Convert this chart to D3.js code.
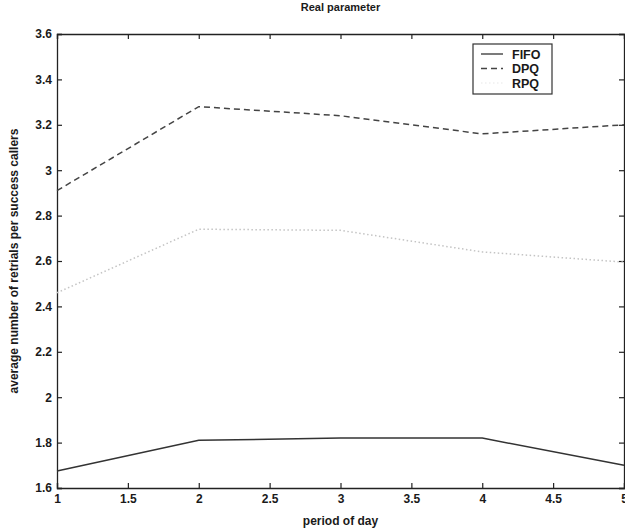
<!DOCTYPE html>
<html>
<head>
<meta charset="utf-8">
<script src="https://cdn.jsdelivr.net/npm/d3@7"></script>
<style>
  body { margin: 0; background: #fff; }
  text { font-family: "Liberation Sans", Arial, sans-serif; fill: #1a1a1a; }
</style>
</head>
<body>
<div id="chart"></div>
<script>
// data
const periods = [1, 2, 3, 4, 5]
const fifo = [1.675, 1.81, 1.82, 1.82, 1.70]
const dpq = [2.91, 3.28, 3.24, 3.16, 3.20]
const rpq = [2.46, 2.74, 2.735, 2.64, 2.595]
const xTicks = [1, 1.5, 2, 2.5, 3, 3.5, 4, 4.5, 5]
const yTicks = [1.6, 1.8, 2, 2.2, 2.4, 2.6, 2.8, 3, 3.2, 3.4, 3.6]
const seriesNames = ["FIFO", "DPQ", "RPQ"]

const W = 625, H = 531
const margin = {top: 34, right: 1, bottom: 43, left: 57}
const width = W - margin.left - margin.right
const height = H - margin.top - margin.bottom

const svg = d3.select("#chart").append("svg")
        .attr("width", W)
        .attr("height", H)
    .append("g")
        .attr("transform", `translate(${margin.left},${margin.top})`)

const xScale = d3.scaleLinear().domain([1, 5]).range([0, width])
const yScale = d3.scaleLinear().domain([1.6, 3.6]).range([height, 0])

// axes, ticks pointing inward like matlab
const fmt = d => d3.format("")(+d.toFixed(1))
const xAxis = d3.axisBottom(xScale).tickValues(xTicks).tickSize(-5).tickPadding(6).tickFormat(fmt)
const yAxis = d3.axisLeft(yScale).tickValues(yTicks).tickSize(-5).tickPadding(5).tickFormat(fmt)

svg.append("g")
    .attr("transform", `translate(0,${height})`)
    .call(xAxis)
svg.append("g")
    .call(yAxis)
svg.append("g")
    .call(d3.axisTop(xScale).tickValues(xTicks).tickSize(-5).tickFormat(""))
svg.append("g")
    .attr("transform", `translate(${width},0)`)
    .call(d3.axisRight(yScale).tickValues(yTicks).tickSize(-5).tickFormat(""))

svg.selectAll(".domain").attr("stroke", "#222").attr("stroke-width", 1.3)
svg.selectAll(".tick line").attr("stroke", "#222").attr("stroke-width", 1.2)
svg.selectAll(".tick text")
    .style("font-size", "12px")
    .style("font-weight", "bold")
    .attr("fill", "#1a1a1a")

// lines
const line = vals => d3.line()
    .x((d, i) => xScale(periods[i]))
    .y(d => yScale(d))(vals)

const styles = [
    {vals: fifo, color: "#333", dash: null, w: 1.5, key: "#333"},
    {vals: dpq, color: "#444", dash: "6,4", w: 1.5, key: "#444"},
    {vals: rpq, color: "#c4c4c4", dash: "1.5,2.5", w: 1.5, key: "#f0f0f0"}
]

styles.forEach(s => {
    svg.append("path")
        .attr("d", line(s.vals))
        .attr("fill", "none")
        .attr("stroke", s.color)
        .attr("stroke-width", s.w)
        .attr("stroke-dasharray", s.dash)
})

// legend
const legend = svg.append("g")
    .attr("transform", `translate(${473 - margin.left},${44 - margin.top})`)
legend.append("rect")
    .attr("width", 79).attr("height", 50)
    .attr("fill", "#fff").attr("stroke", "#333").attr("stroke-width", 1.2)
seriesNames.forEach((name, i) => {
    const y = 10 + i * 14.5
    legend.append("line")
        .attr("x1", 8).attr("x2", 30).attr("y1", y).attr("y2", y)
        .attr("stroke", styles[i].key)
        .attr("stroke-width", 1.3)
        .attr("stroke-dasharray", styles[i].dash)
    legend.append("text")
        .attr("x", 39).attr("y", y + 4.5)
        .style("font-size", "12.5px").style("font-weight", "bold")
        .text(name)
})

// titles
svg.append("text")
    .attr("x", width / 2).attr("y", -23)
    .attr("text-anchor", "middle")
    .style("font-size", "11px").style("font-weight", "bold")
    .text("Real parameter")

svg.append("text")
    .attr("x", width / 2).attr("y", height + 37)
    .attr("text-anchor", "middle")
    .style("font-size", "12px").style("font-weight", "bold")
    .text("period of day")

svg.append("text")
    .attr("transform", `translate(${-39},${height / 2}) rotate(-90)`)
    .attr("text-anchor", "middle")
    .style("font-size", "12px").style("font-weight", "bold")
    .text("average number of retrials per success callers")
</script>
</body>
</html>
